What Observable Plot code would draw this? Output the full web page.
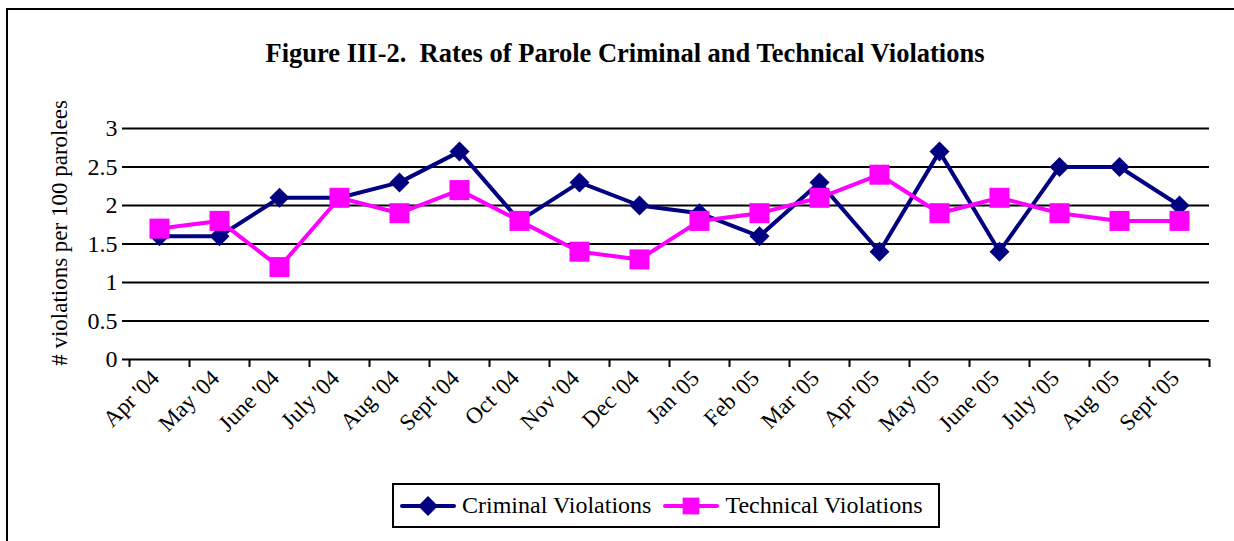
<!DOCTYPE html>
<html>
<head>
<meta charset="utf-8">
<script src="https://cdn.jsdelivr.net/npm/d3@7"></script>
<script src="https://cdn.jsdelivr.net/npm/@observablehq/plot@0.6"></script>
<style>
  html, body { margin: 0; padding: 0; background: #fff; }
  body { width: 1234px; height: 541px; overflow: hidden; position: relative; font-family: "Liberation Serif", "Times New Roman", serif; }
  #frame { position: absolute; left: 6px; top: 8px; width: 1400px; height: 700px; border: 2px solid #000; box-sizing: border-box; }
  #title { position: absolute; left: 0; width: 1250px; top: 37px; text-align: center; font-weight: bold; font-size: 26.5px; line-height: 32px; color: #000; white-space: pre; }
  #chart { position: absolute; left: 0; top: 90px; }
  #legend { position: absolute; left: 392px; top: 483px; width: 548px; height: 45px; border: 2px solid #000; box-sizing: border-box; display: flex; align-items: center; font-family: "Liberation Serif", "Times New Roman", serif; font-size: 24px; color: #000; padding-left: 6px; }
  #legend .item { display: flex; align-items: center; margin-right: 12px; }
  #legend svg { margin-right: 6px; }
</style>
</head>
<body>
<div id="frame"></div>
<div id="title"></div>
<div id="chart"></div>
<div id="legend"></div>
<script>
const titleText = "Figure III-2.  Rates of Parole Criminal and Technical Violations";
const yLabel = "# violations per 100 parolees";
const months = ["Apr '04","May '04","June '04","July '04","Aug '04","Sept '04","Oct '04","Nov '04","Dec '04","Jan '05","Feb '05","Mar '05","Apr '05","May '05","June '05","July '05","Aug '05","Sept '05"];
const criminal = [1.6,1.6,2.1,2.1,2.3,2.7,1.8,2.3,2.0,1.9,1.6,2.3,1.4,2.7,1.4,2.5,2.5,2.0];
const technical = [1.7,1.8,1.2,2.1,1.9,2.2,1.8,1.4,1.3,1.8,1.9,2.1,2.4,1.9,2.1,1.9,1.8,1.8];
const yTicks = [0,0.5,1,1.5,2,2.5,3];
const seriesNames = ["Criminal Violations","Technical Violations"];
const seriesColors = ["#000080","#ff00ff"];

document.getElementById("title").textContent = titleText;

const crimData = months.map((m,i)=>({month:m, value:criminal[i]}));
const techData = months.map((m,i)=>({month:m, value:technical[i]}));

const font = "'Liberation Serif', 'Times New Roman', serif";

const chart = Plot.plot({
  width: 1234,
  height: 390,
  marginLeft: 129,
  marginRight: 25,
  marginTop: 38,
  marginBottom: 121,
  style: {fontFamily: font, background: "transparent", color: "#000", overflow: "visible"},
  x: {type: "point", domain: months, padding: 0.5, label: null},
  y: {domain: [0,3], label: null},
  marks: [
    Plot.ruleY(yTicks, {stroke: "#000", strokeWidth: 2}),
    Plot.ruleX([0], {frameAnchor: "left", stroke: "#000", strokeWidth: 2}),
    Plot.ruleX(months, {x: d=>d, y1: 0, y2: 0, insetBottom: -8, dx: -30, stroke: "#000", strokeWidth: 2}),
    Plot.ruleX([months[months.length-1]], {x: d=>d, y1: 0, y2: 0, insetBottom: -8, dx: 30, stroke: "#000", strokeWidth: 2}),
    Plot.axisY({ticks: yTicks, tickSize: 7, tickPadding: 5, fontSize: 24, fontFamily: font, tickFormat: d=>String(d), strokeWidth: 2, label: null}),
    Plot.axisX({tickSize: 0, tickRotate: -45, tickPadding: 15, dx: -4, fontSize: 23, fontFamily: font, label: null}),
    Plot.text([yLabel], {frameAnchor: "left", textAnchor: "middle", rotate: -90, dx: -70, dy: -11, fontSize: 23, fontFamily: font, text: d=>d}),
    Plot.line(crimData, {x: "month", y: "value", stroke: seriesColors[0], strokeWidth: 4}),
    Plot.dot(crimData, {x: "month", y: "value", symbol: "diamond2", r: 9, fill: seriesColors[0], stroke: "none"}),
    Plot.line(techData, {x: "month", y: "value", stroke: seriesColors[1], strokeWidth: 4}),
    Plot.dot(techData, {x: "month", y: "value", symbol: "square", r: 11.3, fill: seriesColors[1], stroke: "none"})
  ]
});
document.getElementById("chart").appendChild(chart);

// legend
const legend = d3.select("#legend");
const symbols = [d3.symbolDiamond2, d3.symbolSquare];
const symSizes = [9*9*Math.PI, 11.3*11.3*Math.PI*0.7];
seriesNames.forEach((name, i) => {
  const item = legend.append("div").attr("class","item");
  const svg = item.append("svg").attr("width", 56).attr("height", 24);
  svg.append("line").attr("x1",2).attr("x2",54).attr("y1",12).attr("y2",12).attr("stroke",seriesColors[i]).attr("stroke-width",4).attr("stroke-linecap","round");
  svg.append("path").attr("d", d3.symbol(symbols[i], symSizes[i])()).attr("transform","translate(28,12)").attr("fill",seriesColors[i]);
  item.append("span").text(name);
});
</script>
</body>
</html>
